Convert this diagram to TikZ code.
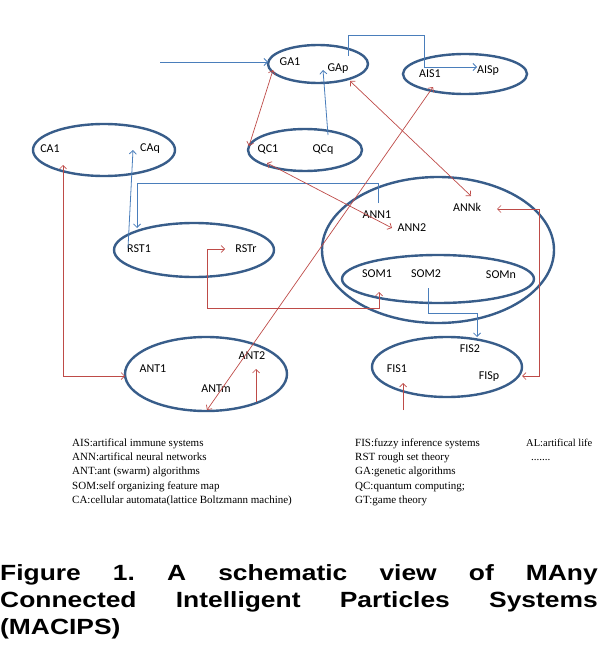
\documentclass[tikz,border=0pt]{standalone}
\usepackage{fontspec}
\usepackage{graphicx}
\setmainfont{Carlito}
\newfontfamily\legfont{Liberation Serif}
\newfontfamily\capfont{Liberation Sans}
\usetikzlibrary{shapes.geometric,arrows.meta}
\definecolor{ellblue}{HTML}{385D8A}
\definecolor{conblue}{HTML}{4A7EBB}
\definecolor{conred}{HTML}{BE4B48}
\frenchspacing
\begin{document}
\begin{tikzpicture}[x=1pt,y=-1pt,
  >={Straight Barb[length=3.5pt,width=7pt]},
  ell/.style={draw=ellblue,line width=2.4pt,ellipse,inner sep=0pt},
  lab/.style={font=\fontsize{12}{12}\selectfont,inner sep=0pt,anchor=mid},
  bcon/.style={draw=conblue,line width=0.8pt},
  rcon/.style={draw=conred,line width=0.7pt},
  leg/.style={font=\legfont\fontsize{11}{11}\selectfont,inner sep=0pt,anchor=base west},
  capl/.style={font=\capfont\bfseries\fontsize{22}{22}\selectfont,inner sep=0pt,anchor=base west}
]
\useasboundingbox (0,0) rectangle (598,650);
% ellipses
\node[ell,minimum width=100pt,minimum height=38pt] (ga) at (318,64) {};
\node[ell,minimum width=124pt,minimum height=40pt] (ais) at (465,74) {};
\node[ell,minimum width=142pt,minimum height=52pt] (ca) at (104,150) {};
\node[ell,minimum width=114pt,minimum height=42pt] (qc) at (305,150) {};
\node[ell,minimum width=160pt,minimum height=54pt] (rst) at (194,250) {};
\node[ell,minimum width=232pt,minimum height=146pt] (ann) at (438,250) {};
\node[ell,minimum width=192pt,minimum height=48pt] (som) at (438,279) {};
\node[ell,minimum width=150pt,minimum height=60pt] (fis) at (447,367) {};
\node[ell,minimum width=162pt,minimum height=74pt] (ant) at (206,374) {};
% labels
\node[lab] (ga1) at (290,63) {GA1};
\node[lab] (gap) at (338,69) {GAp};
\node[lab] (ais1) at (430,75) {AIS1};
\node[lab] (aisp) at (488,71) {AISp};
\node[lab] (ca1) at (50,150) {CA1};
\node[lab] (caq) at (150,149) {CAq};
\node[lab] (qc1) at (268,150) {QC1};
\node[lab] (qcq) at (323,150) {QCq};
\node[lab] (rst1) at (139,250) {RST1};
\node[lab] (rstr) at (246,250) {RSTr};
\node[lab] (ann1) at (377,216) {ANN1};
\node[lab] (ann2) at (412,229) {ANN2};
\node[lab] (annk) at (467,209) {ANNk};
\node[lab] (som1) at (377,275) {SOM1};
\node[lab] (som2) at (426,275) {SOM2};
\node[lab] (somn) at (501,276) {SOMn};
\node[lab] (fis2) at (470,350) {FIS2};
\node[lab] (fis1) at (397,370) {FIS1};
\node[lab] (fisp) at (489,377) {FISp};
\node[lab] (ant1) at (153,370) {ANT1};
\node[lab] (ant2) at (252,357) {ANT2};
\node[lab] (antm) at (216,390) {ANTm};
% connector end points
\coordinate (inGA) at (160,62);
\coordinate (gaIn) at (268,62);
\coordinate (gapOut) at (348,56);
\coordinate (aispIn) at (477,67);
\coordinate (qcqOut) at (328,135);
\coordinate (gaBot) at (323,70);
\coordinate (rstOut) at (128,248);
\coordinate (caqIn) at (133,150);
\coordinate (ann1Out) at (378,203);
\coordinate (rstIn) at (137,228);
\coordinate (som2Out) at (428,288);
\coordinate (fis2In) at (477,337);
\coordinate (caBot) at (63,165);
\coordinate (antL) at (125,376);
\coordinate (gaSW) at (273,70);
\coordinate (qcW) at (249,146);
\coordinate (gaSE) at (350,81);
\coordinate (annkIn) at (471,196);
\coordinate (aisSW) at (433,87);
\coordinate (antBot) at (207,410);
\coordinate (qcSW) at (267,163);
\coordinate (ann2In) at (392,228);
\coordinate (rstrIn) at (225,249);
\coordinate (som1In) at (379,292);
\coordinate (annkR) at (497,209);
\coordinate (fisR) at (522,376);
\coordinate (fisLow) at (403,410);
\coordinate (fis1In) at (403,383);
\coordinate (antLow) at (256,402);
\coordinate (ant2In) at (256,369);
% blue connectors
\draw[bcon,->] (inGA) -- (gaIn);
\draw[bcon,->] (gapOut) -- (348,35) -- (424,35) -- (424,67) -- (aispIn);
\draw[bcon,->] (qcqOut) -- (gaBot);
\draw[bcon,->] (rstOut) -- (caqIn);
\draw[bcon,->] (ann1Out) -- (378,183) -- (137,183) -- (rstIn);
\draw[bcon,->] (som2Out) -- (428,313) -- (477,313) -- (fis2In);
% red connectors
\draw[rcon,<->] (caBot) -- (63,376) -- (antL);
\draw[rcon,<->] (gaSW) -- (qcW);
\draw[rcon,<->] (gaSE) -- (annkIn);
\draw[rcon,<->] (aisSW) -- (antBot);
\draw[rcon,<->] (qcSW) -- (ann2In);
\draw[rcon,<->] (rstrIn) -- (207,249) -- (207,308) -- (379,308) -- (som1In);
\draw[rcon,<->] (annkR) -- (539,209) -- (539,376) -- (fisR);
\draw[rcon,->] (fisLow) -- (fis1In);
\draw[rcon,->] (antLow) -- (ant2In);
% legend
\node[leg] (l1) at (72,446) {AIS:artifical immune systems};
\node[leg] (l2) at (72,460) {ANN:artifical neural networks};
\node[leg] (l3) at (72,474.5) {ANT:ant (swarm) algorithms};
\node[leg] (l4) at (72,489) {SOM:self organizing feature map};
\node[leg] (l5) at (72,503) {CA:cellular automata(lattice Boltzmann machine)};
\node[leg] (m1) at (355,446) {FIS:fuzzy inference systems};
\node[leg] (m2) at (355,460) {RST rough set theory};
\node[leg] (m3) at (355,474.5) {GA:genetic algorithms};
\node[leg] (m4) at (355,489) {QC:quantum computing;};
\node[leg] (m5) at (355,503) {GT:game theory};
\node[leg] (r1) at (526,446) {\fontsize{10.5}{10.5}\selectfont AL:artifical life};
\node[leg] (r2) at (531,460) {.......};
% caption
\node[capl] (c1) at (0,580) {\scalebox{1.2}[1]{\makebox[498pt][s]{Figure 1. A schematic view of MAny}}};
\node[capl] (c2) at (0,607) {\scalebox{1.2}[1]{\makebox[498pt][s]{Connected Intelligent Particles Systems}}};
\node[capl] (c3) at (0,634) {\scalebox{1.2}[1]{(MACIPS)}};
\end{tikzpicture}
\end{document}
